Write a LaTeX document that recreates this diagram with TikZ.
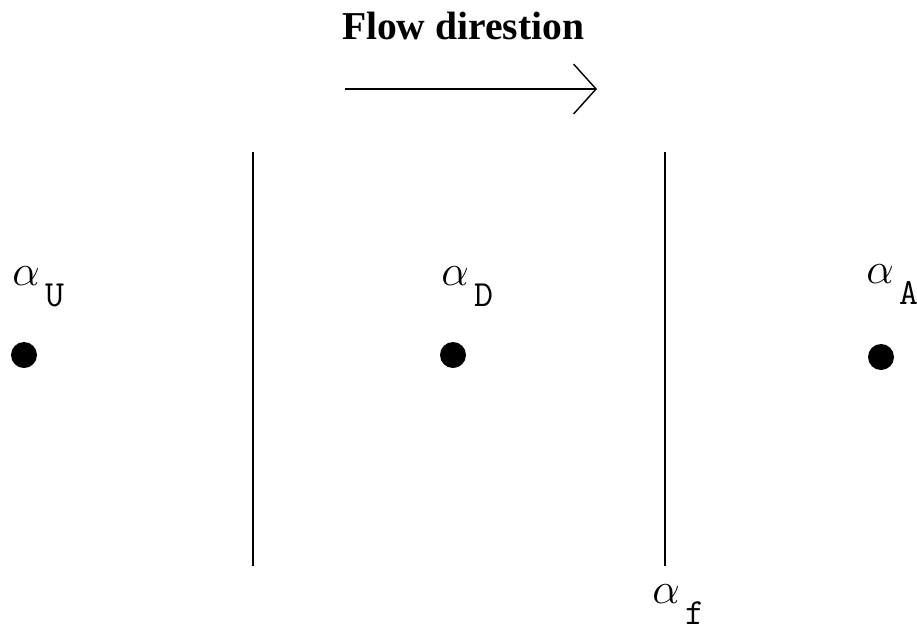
\documentclass[tikz,border=0pt]{standalone}
\usepackage{fontspec}
\setmainfont{Liberation Serif}
\usetikzlibrary{arrows.meta, positioning}

\newcommand{\alphalabel}[1]{{\fontsize{27}{30}\selectfont$\alpha$}\hspace{3pt}\raisebox{-12pt}{\fontsize{21}{24}\ttfamily #1}}

\begin{document}
\begin{tikzpicture}[x=0.02cm, y=-0.02cm,
  dot/.style={circle, fill=black, inner sep=0pt, minimum size=0.52cm},
  wall/.style={line width=0.8pt},
  lbl/.style={inner sep=0pt, anchor=base west}]
  \useasboundingbox (0,0) rectangle (917,630);

  % title and flow arrow
  \node[anchor=base, font=\bfseries\fontsize{22.5}{26}\selectfont] (title) at (463,39) {Flow direstion};
  \coordinate (flowstart) at (345,89);
  \coordinate (flowend) at (597,89);
  \draw[line width=0.8pt, -{Straight Barb[length=0.45cm, width=1.0cm]}] (flowstart) -- (flowend);

  % walls
  \coordinate (wallonetop) at (253,152);
  \coordinate (wallonebot) at (253,566);
  \coordinate (walltwotop) at (665,152);
  \coordinate (walltwobot) at (665,566);
  \draw[wall] (wallonetop) -- (wallonebot);
  \draw[wall] (walltwotop) -- (walltwobot);

  % points
  \node[dot] (upstream) at (24,355) {};
  \node[dot] (downstream) at (453,355) {};
  \node[dot] (ambient) at (881,357) {};

  % labels
  \node[lbl] (lblu) at (12,285) {\alphalabel{U}};
  \node[lbl] (lbld) at (441,285) {\alphalabel{D}};
  \node[lbl] (lbla) at (866,283) {\alphalabel{A}};
  \node[lbl] (lblf) at (652,603) {\alphalabel{f}};
\end{tikzpicture}
\end{document}
